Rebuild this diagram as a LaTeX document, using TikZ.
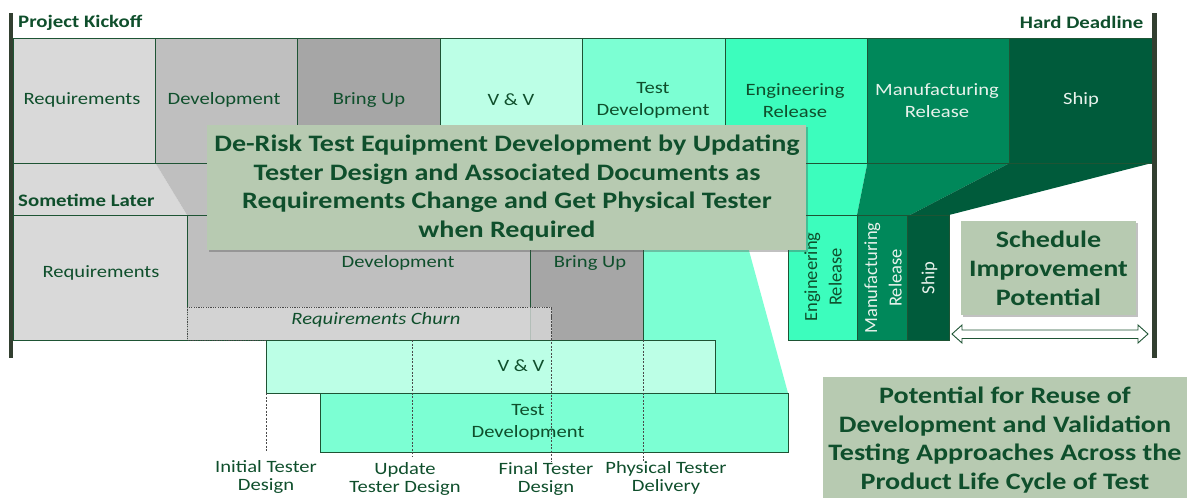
\documentclass[tikz,border=0pt]{standalone}
\usepackage{fontspec}
\setmainfont{Carlito}[FakeStretch=1.19]
\newfontfamily\rotfont{Carlito}
\usetikzlibrary{shadows}
\definecolor{txt}{HTML}{0F4F2C}
\definecolor{edge}{HTML}{1E5434}
\definecolor{creq}{HTML}{D9D9D9}
\definecolor{cdev}{HTML}{BFBFBF}
\definecolor{cbring}{HTML}{A6A6A6}
\definecolor{cvv}{HTML}{BCFFE6}
\definecolor{ctd}{HTML}{7CFFD3}
\definecolor{ceng}{HTML}{3CFDBD}
\definecolor{cmfg}{HTML}{00885A}
\definecolor{cship}{HTML}{005B3B}
\definecolor{barc}{HTML}{323F30}
\definecolor{sage}{HTML}{B7CAB1}
\definecolor{lighttxt}{HTML}{E8F2EC}
\definecolor{dotc}{HTML}{4A4A4A}
\begin{document}
\begin{tikzpicture}[x=1pt,y=-1pt,
  phase/.style={draw=edge, line width=0.8pt},
  lab/.style={text=txt, font=\fontsize{17.3}{22}\selectfont, align=center, inner sep=0pt},
  blab/.style={text=txt, font=\fontsize{17.5}{21}\selectfont\bfseries, inner sep=0pt},
  rlab/.style={text=txt, font=\rotfont\fontsize{18.5}{24.5}\selectfont, align=center, inner sep=0pt, rotate=90},
  tick/.style={draw=dotc, line width=0.8pt, dash pattern=on 2pt off 1.5pt},
  callout/.style={fill=sage, draw=none, inner sep=0pt, drop shadow={shadow xshift=2pt, shadow yshift=-2pt, opacity=0.35, fill=black!70}},
  ctext/.style={text=txt, font=\fontsize{23.6}{28.7}\selectfont\bfseries, align=center, inner sep=0pt}]
\path[use as bounding box] (0,0) rectangle (1187,498);

% ---------- funnels between the rows ----------
\fill[ctd] (582.6,163) -- (725,163) -- (788,393) -- (320,393) -- cycle;
\fill[creq] (13,163) -- (155.4,163) -- (187,215) -- (13,215) -- cycle;
\fill[cdev] (155.4,163) -- (297.8,163) -- (530,215) -- (187,215) -- cycle;
\fill[cbring] (297.8,163) -- (440.2,163) -- (643,215) -- (530,215) -- cycle;
\fill[ceng] (725,163) -- (867.4,163) -- (857,215) -- (788,215) -- cycle;
\fill[cmfg] (867.4,163) -- (1009.8,163) -- (910,215) -- (857,215) -- cycle;
\fill[cship] (1009.8,163) -- (1152,163) -- (949,215) -- (910,215) -- cycle;

% ---------- top row ----------
\filldraw[phase, fill=creq]   (13,38) rectangle (155.4,163);
\filldraw[phase, fill=cdev]   (155.4,38) rectangle (297.8,163);
\filldraw[phase, fill=cbring] (297.8,38) rectangle (440.2,163);
\filldraw[phase, fill=cvv]    (440.2,38) rectangle (582.6,163);
\filldraw[phase, fill=ctd]    (582.6,38) rectangle (725,163);
\filldraw[phase, fill=ceng]   (725,38) rectangle (867.4,163);
\filldraw[phase, fill=cmfg]   (867.4,38) rectangle (1009.8,163);
\filldraw[phase, fill=cship]  (1009.8,38) rectangle (1152,163);

\node[lab] (t-req) at (82,100) {Requirements};
\node[lab] (t-dev) at (224,100) {Development};
\node[lab] (t-bu)  at (369,100) {Bring Up};
\node[lab] (t-vv)  at (511,100) {V \& V};
\node[lab] (t-td)  at (653,100.5) {Test\\Development};
\node[lab] (t-er)  at (795,100.5) {Engineering\\Release};
\node[lab, text=lighttxt] (t-mr) at (937,100.5) {Manufacturing\\Release};
\node[lab, text=lighttxt] (t-sh) at (1081,100) {Ship};

% ---------- lower row ----------
\filldraw[phase, fill=creq]   (13,215) rectangle (187,340);
\filldraw[phase, fill=cdev]   (187,215) rectangle (530,340);
\filldraw[phase, fill=cbring] (530,215) rectangle (643,340);
\filldraw[phase, fill=ceng]   (788,215) rectangle (857,340);
\filldraw[phase, fill=cmfg]   (857,215) rectangle (907,340);
\filldraw[phase, fill=cship]  (907,215) rectangle (949,340);
\draw[phase] (13,163) -- (13,215);

\node[lab] (l-req) at (101,273) {Requirements};
\node[lab] (l-dev) at (398,263) {Development};
\node[lab] (l-bu)  at (590,263) {Bring Up};
\node[rlab] (l-er) at (823,277) {Engineering\\Release};
\node[rlab, text=lighttxt] (l-mr) at (883,278) {Manufacturing\\Release};
\node[rlab, text=lighttxt] (l-sh) at (929.5,278) {Ship};

% requirements churn
\filldraw[fill=creq, fill opacity=0.8, draw=dotc, line width=0.8pt, dash pattern=on 1.2pt off 1.2pt] (187,307) rectangle (551.5,340);
\node[lab, font=\fontsize{17.3}{21}\selectfont\itshape] (churn) at (376,320) {Requirements Churn};

% V&V and test development
\filldraw[phase, fill=cvv] (266,340) rectangle (715,393);
\node[lab] (b-vv) at (521,366) {V \& V};
\filldraw[phase, fill=ctd] (320,393) rectangle (788,452);
\node[lab] (b-td) at (528,422.5) {Test\\Development};

% ---------- milestone ticks ----------
\coordinate (i-top) at (266,393);   \coordinate (i-bot) at (266,452);
\coordinate (u-top) at (412,340);   \coordinate (u-bot) at (412,457);
\coordinate (f-top) at (551.5,307); \coordinate (f-bot) at (551.5,462);
\coordinate (p-top) at (643,340);   \coordinate (p-bot) at (643,462);
\draw[tick] (i-top) -- (i-bot);
\draw[tick] (u-top) -- (u-bot);
\draw[tick] (f-top) -- (f-bot);
\draw[tick] (p-top) -- (p-bot);
\node[lab, font=\fontsize{17.3}{18}\selectfont] (m-init) at (266,477) {Initial Tester\\Design};
\node[lab, font=\fontsize{17.3}{18}\selectfont] (m-upd)  at (405,479) {Update\\Tester Design};
\node[lab, font=\fontsize{17.3}{18}\selectfont] (m-fin)  at (546,479) {Final Tester\\Design};
\node[lab, font=\fontsize{17.3}{18}\selectfont] (m-phy)  at (666,478) {Physical Tester\\Delivery};

% ---------- bars and headings ----------
\fill[barc] (8.5,13) rectangle (13.2,358);
\fill[barc] (1152,13) rectangle (1156.8,358);
\node[blab, anchor=west] (kick) at (18,22.5) {Project Kickoff};
\node[blab, anchor=east] (hard) at (1143.5,22.5) {Hard Deadline};
\node[blab, anchor=west] (later) at (18,200) {Sometime Later};

% ---------- callouts ----------
\node[callout, minimum width=599pt, minimum height=125pt, anchor=north west] (derisk) at (207,125) {};
\node[ctext] (derisk-t) at (507,188) {De-Risk Test Equipment Development by Updating\\Tester Design and Associated Documents as\\Requirements Change and Get Physical Tester\\when Required};

\node[callout, minimum width=175pt, minimum height=94pt, anchor=north west] (sched) at (961,221) {};
\node[ctext] (sched-t) at (1048.5,268.5) {Schedule\\Improvement\\Potential};

\filldraw[draw=edge, fill=white, line width=0.9pt]
  (952,334) -- (962,325) -- (962,330) -- (1138,330) -- (1138,325) -- (1148,334)
  -- (1138,343) -- (1138,338.5) -- (962,338.5) -- (962,343) -- cycle;

\node[callout, minimum width=370pt, minimum height=125pt, anchor=north west] (reuse) at (822.5,377) {};
\node[ctext] (reuse-t) at (1005,440) {Potential for Reuse of\\Development and Validation\\Testing Approaches Across the\\Product Life Cycle of Test};
\end{tikzpicture}
\end{document}
